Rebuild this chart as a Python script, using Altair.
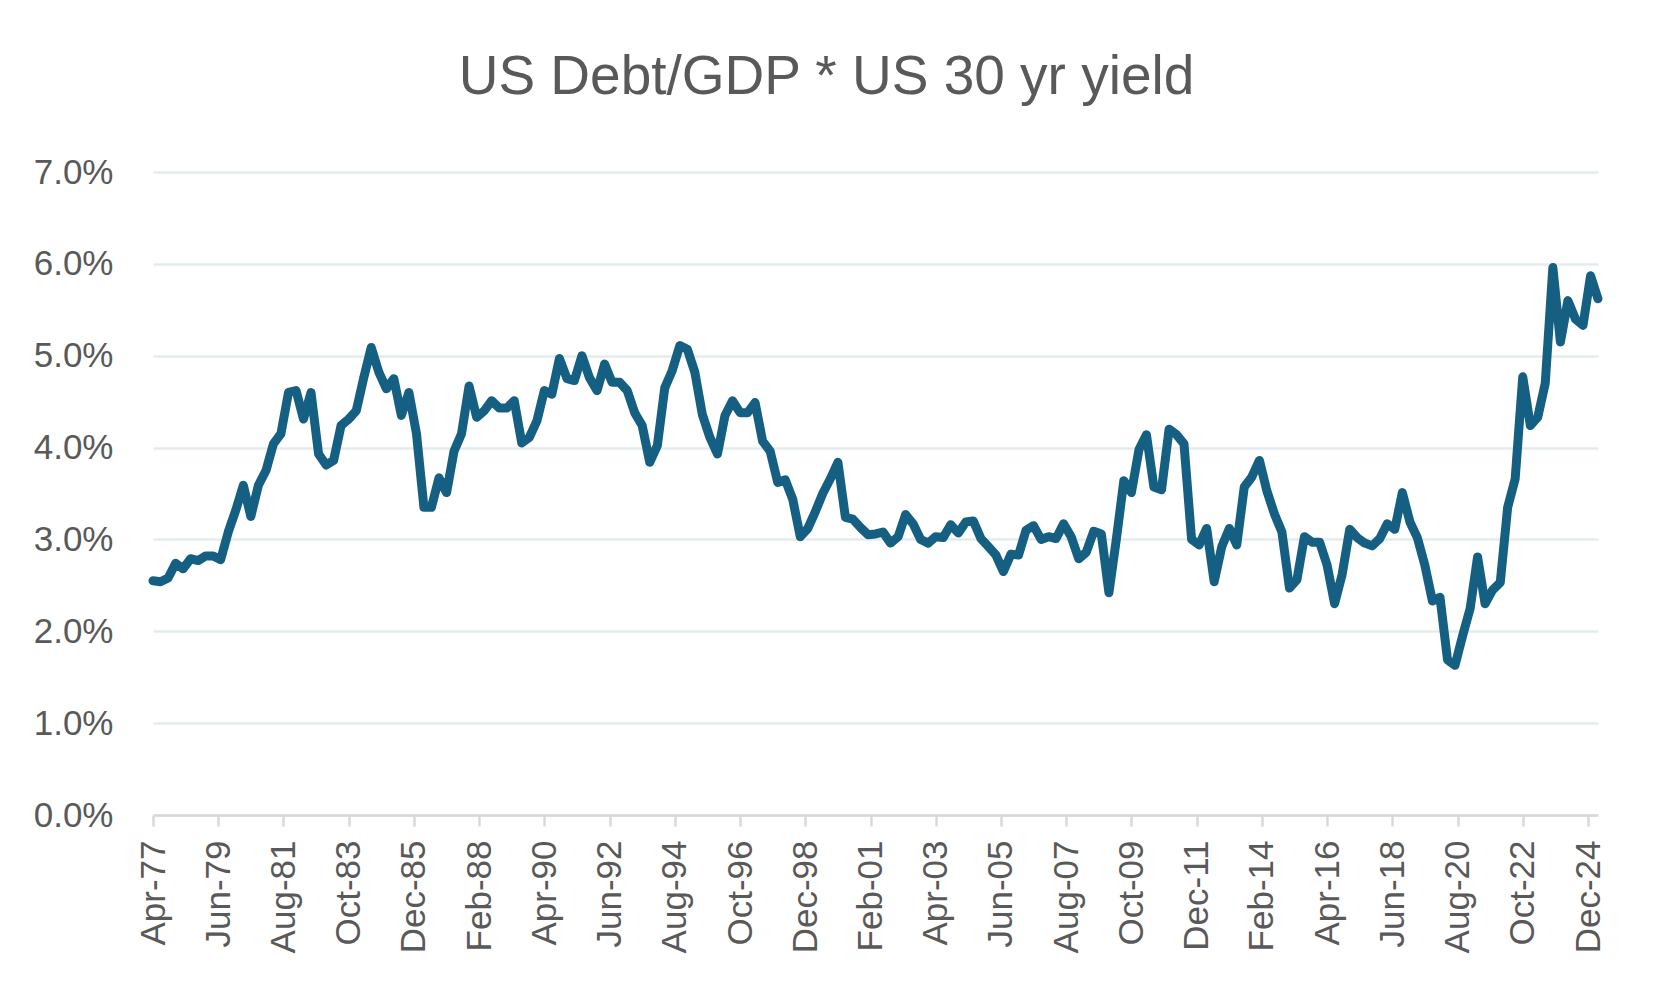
import altair as alt
import pandas as pd

# Quarterly observations, Apr-1977 .. Apr-2025 (US Debt/GDP * US 30 yr yield, %)
start_date = "1977-04-01"
values = [
    2.55, 2.54, 2.58, 2.74, 2.68, 2.79, 2.77, 2.82, 2.82, 2.78,
    3.08, 3.32, 3.59, 3.25, 3.59, 3.75, 4.04, 4.15, 4.60, 4.62,
    4.31, 4.60, 3.93, 3.81, 3.86, 4.24, 4.31, 4.40, 4.76, 5.09,
    4.82, 4.64, 4.75, 4.35, 4.60, 4.15, 3.35, 3.35, 3.67, 3.51,
    3.96, 4.15, 4.67, 4.33, 4.40, 4.51, 4.43, 4.43, 4.51, 4.05,
    4.11, 4.29, 4.62, 4.58, 4.97, 4.75, 4.73, 5.00, 4.76, 4.62,
    4.91, 4.71, 4.71, 4.62, 4.38, 4.24, 3.84, 4.02, 4.65, 4.84,
    5.11, 5.07, 4.82, 4.36, 4.11, 3.93, 4.35, 4.51, 4.38, 4.38,
    4.49, 4.07, 3.96, 3.62, 3.65, 3.44, 3.03, 3.12, 3.30, 3.50,
    3.66, 3.84, 3.24, 3.22, 3.13, 3.05, 3.06, 3.08, 2.96, 3.03,
    3.27, 3.17, 3.00, 2.96, 3.03, 3.02, 3.16, 3.07, 3.19, 3.20,
    3.01, 2.92, 2.83, 2.65, 2.84, 2.83, 3.10, 3.15, 3.00, 3.03,
    3.01, 3.17, 3.03, 2.79, 2.86, 3.09, 3.06, 2.42, 3.00, 3.64,
    3.51, 3.98, 4.14, 3.57, 3.54, 4.20, 4.14, 4.04, 3.00, 2.94,
    3.12, 2.54, 2.92, 3.12, 2.94, 3.57, 3.68, 3.86, 3.53, 3.28,
    3.08, 2.47, 2.56, 3.03, 2.97, 2.97, 2.72, 2.30, 2.62, 3.11,
    3.02, 2.96, 2.93, 3.01, 3.17, 3.11, 3.51, 3.19, 3.02, 2.72,
    2.33, 2.37, 1.69, 1.63, 1.95, 2.25, 2.81, 2.30, 2.45, 2.53,
    3.35, 3.66, 4.77, 4.24, 4.33, 4.70, 5.96, 5.15, 5.60, 5.40,
    5.33, 5.87, 5.62,
]

# x-axis tick labels (every 26 months)
tick_labels = [
    (1977, 4), (1979, 6), (1981, 8), (1983, 10), (1985, 12), (1988, 2),
    (1990, 4), (1992, 6), (1994, 8), (1996, 10), (1998, 12), (2001, 2),
    (2003, 4), (2005, 6), (2007, 8), (2009, 10), (2011, 12), (2014, 2),
    (2016, 4), (2018, 6), (2020, 8), (2022, 10), (2024, 12),
]
y_ticks = [0, 1, 2, 3, 4, 5, 6, 7]

dates = pd.date_range(start_date, periods=len(values), freq="3MS")
df = pd.DataFrame({"date": dates.strftime("%Y-%m-%dT00:00:00"), "value": values})

FONT = "Liberation Sans"
GREY = "#595959"

chart = (
    alt.Chart(df)
    .mark_line(color="#156082", strokeWidth=9, strokeJoin="round", strokeCap="round")
    .encode(
        x=alt.X(
            "date:T",
            title=None,
            scale=alt.Scale(
                domain=[
                    alt.DateTime(year=1977, month=4, date=1),
                    alt.DateTime(year=2025, month=4, date=1),
                ],
                nice=False,
            ),
            axis=alt.Axis(
                values=[alt.DateTime(year=y, month=m, date=1) for y, m in tick_labels],
                format="%b-%y",
                labelAngle=-90,
                labelFontSize=35,
                labelFont=FONT,
                labelColor=GREY,
                labelPadding=14,
                labelOverlap=False,
                labelFlush=False,
                tickSize=11,
                tickWidth=2.5,
                tickColor="#D9D9D9",
                domainColor="#D9D9D9",
                domainWidth=2.5,
                grid=False,
            ),
        ),
        y=alt.Y(
            "value:Q",
            title=None,
            scale=alt.Scale(domain=[0, 7], nice=False),
            axis=alt.Axis(
                values=y_ticks,
                labelExpr="format(datum.value, '.1f') + '%'",
                labelFontSize=35,
                labelFont=FONT,
                labelColor=GREY,
                labelPadding=40,
                ticks=False,
                tickSize=0,
                domain=False,
                grid=True,
                gridColor="#E4EBEF",
                gridWidth=2.5,
            ),
        ),
    )
    .properties(
        width=1445,
        height=643,
        autosize=alt.AutoSizeParams(type="none"),
        padding={"left": 145, "top": 164, "right": 47, "bottom": 170},
        title=alt.TitleParams(
            "US Debt/GDP * US 30 yr yield",
            fontSize=55,
            font=FONT,
            fontWeight="normal",
            color=GREY,
            anchor="middle",
            dx=-49,
            baseline="alphabetic",
            offset=6,
        ),
    )
    .configure_view(stroke=None)
)

chart.save("out.html", embed_options={"renderer": "svg", "actions": False})
